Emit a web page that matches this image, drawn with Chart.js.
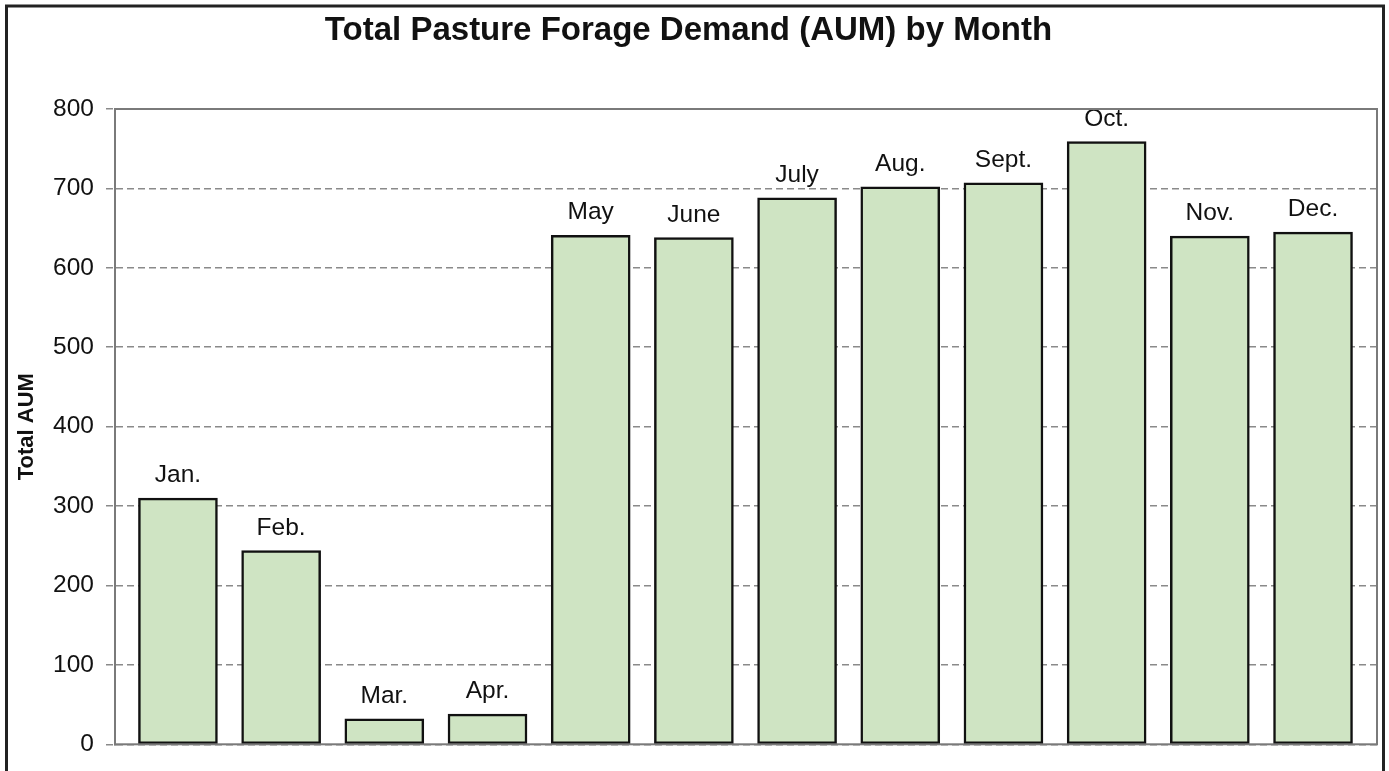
<!DOCTYPE html>
<html>
<head>
<meta charset="utf-8">
<title>Total Pasture Forage Demand (AUM) by Month</title>
<script src="https://cdn.jsdelivr.net/npm/chart.js@4"></script>
<style>
  body { margin: 0; background: #fff; }
</style>
</head>
<body>
<canvas id="aumChart" width="1389" height="771"></canvas>
<script>
const months = ['Jan.', 'Feb.', 'Mar.', 'Apr.', 'May', 'June', 'July', 'Aug.', 'Sept.', 'Oct.', 'Nov.', 'Dec.'];
const totalAum = [310, 244, 32, 38, 641, 638, 688, 702, 707, 759, 640, 645];
const yTicks = [0, 100, 200, 300, 400, 500, 600, 700, 800];

const fontFamily = '"Liberation Sans", Arial, Helvetica, sans-serif';

// frame round the whole picture and the grey box round the plot
const framePlugin = {
  id: 'frame',
  afterDraw(chart) {
    const c = chart.ctx;
    const a = chart.chartArea;
    c.save();
    c.strokeStyle = '#7a7a7a';
    c.lineWidth = 2;
    c.strokeRect(a.left, a.top, a.right - a.left, a.bottom - a.top);
    c.strokeStyle = '#222';
    c.lineWidth = 3;
    c.strokeRect(6.5, 6, 1377, 800);
    c.restore();
  },
};

// month names above each bar
const barLabelPlugin = {
  id: 'barLabels',
  afterDatasetsDraw(chart) {
    const c = chart.ctx;
    const meta = chart.getDatasetMeta(0);
    c.save();
    c.font = '24.5px ' + fontFamily;
    c.fillStyle = '#111';
    c.textAlign = 'center';
    c.textBaseline = 'alphabetic';
    meta.data.forEach((bar, i) => {
      c.fillText(months[i], bar.x, bar.y - 16);
    });
    c.restore();
  },
};

const ctx = document.getElementById('aumChart');
const aumChart = new Chart(ctx, {
  type: 'bar',
  data: {
    labels: months,
    datasets: [
      {
        label: 'Total AUM',
        data: totalAum.map((v, i) => ({ x: i, y: v })),
        backgroundColor: 'rgb(207, 228, 195)',
        borderColor: '#111',
        borderWidth: 2.5,
        borderSkipped: false,
        barThickness: 79,
      },
    ],
  },
  options: {
    responsive: false,
    animation: false,
    layout: {
      padding: { left: 0, right: 12, top: 0, bottom: 23 },
    },
    plugins: {
      legend: { display: false },
      tooltip: { enabled: false },
      title: {
        display: true,
        text: 'Total Pasture Forage Demand (AUM) by Month',
        color: '#111',
        font: { family: fontFamily, size: 33, weight: 'bold' },
        padding: { top: 11, bottom: 58.4 },
      },
    },
    scales: {
      x: {
        type: 'linear',
        display: false,
        offset: false,
        grid: { offset: false },
        min: -0.61,
        max: 11.62,
      },
      y: {
        min: 0,
        max: 800,
        afterBuildTicks(scale) {
          scale.ticks = yTicks.map(v => ({ value: v }));
        },
        afterFit(scale) {
          scale.width = 115;
        },
        ticks: {
          color: '#111',
          padding: 12,
          font: { family: fontFamily, size: 24.5 },
        },
        grid: {
          color: '#8a8a8a',
          lineWidth: 1.5,
          tickLength: 9,
          tickColor: '#8a8a8a',
          tickBorderDash: [7, 4],
        },
        border: {
          display: true,
          color: '#7a7a7a',
          width: 2,
          dash: [7, 4],
        },
        title: {
          display: true,
          text: 'Total AUM',
          color: '#111',
          font: { family: fontFamily, size: 22, weight: 'bold' },
          padding: { top: 14, bottom: 0 },
        },
      },
    },
  },
  plugins: [framePlugin, barLabelPlugin],
});
</script>
</body>
</html>
